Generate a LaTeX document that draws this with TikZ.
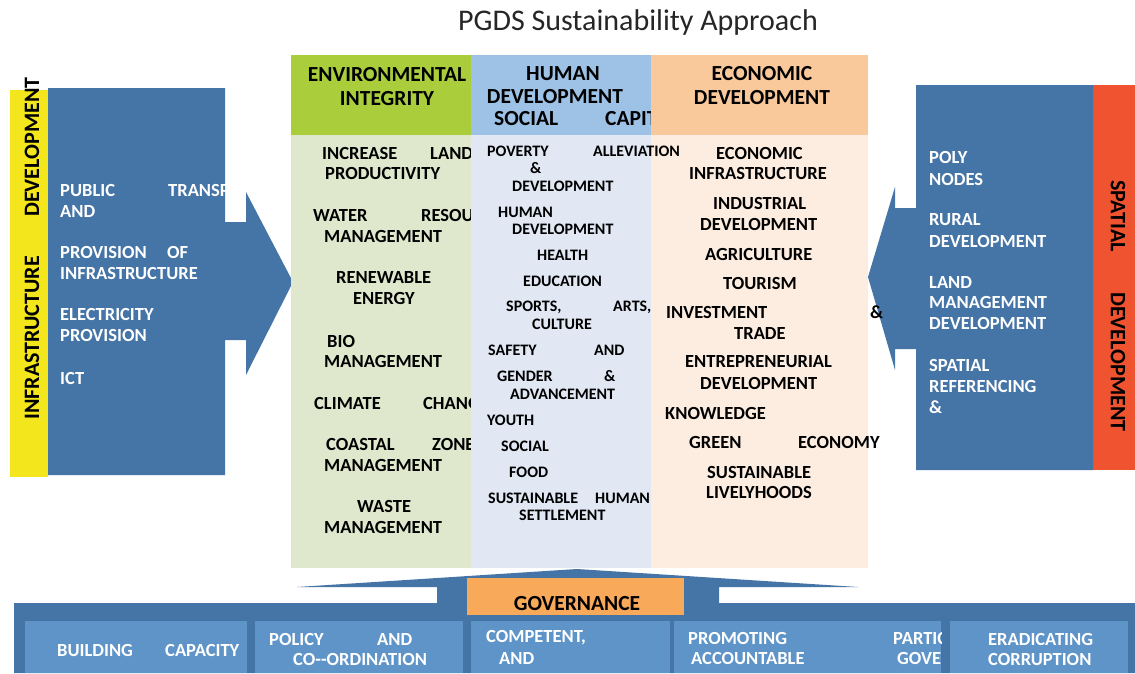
\documentclass[tikz,border=0pt]{standalone}
\usepackage{fontspec}
\setmainfont{Carlito}
\usepackage{tikz}
\definecolor{arrowBlue}{HTML}{4574A6}
\definecolor{boxBlue}{HTML}{5F94C8}
\definecolor{barYellow}{HTML}{F3E61C}
\definecolor{barRed}{HTML}{EF532F}
\definecolor{envHead}{HTML}{A9CD3B}
\definecolor{envBody}{HTML}{DFE8CC}
\definecolor{humHead}{HTML}{9DC2E5}
\definecolor{humBody}{HTML}{E1E8F4}
\definecolor{ecoHead}{HTML}{F9C89B}
\definecolor{ecoBody}{HTML}{FDEDE1}
\definecolor{govOrange}{HTML}{F8A95A}
% two words of one line, the second starting #1pt after the first
\newcommand{\jpair}[3]{\makebox[#1pt][l]{#2}#3}
% outlines of the two side arrows
\newcommand{\infraoutline}{(48,88) -- (225,88) -- (225,222) -- (246,222) -- (246,192)
    -- (293,282) -- (246,375) -- (246,340) -- (225,340) -- (225,475) -- (48,475) -- cycle}
\newcommand{\spatialoutline}{(1093,85) -- (916,85) -- (916,208) -- (895,208) -- (895,187)
    -- (868,277) -- (895,370) -- (895,349) -- (916,349) -- (916,470) -- (1093,470) -- cycle}

\begin{document}
\begin{tikzpicture}[x=1pt, y=-1pt,
    item/.style={anchor=west, inner sep=0pt, font=\fontsize{18.5}{21}\selectfont\bfseries},
    small/.style={item, font=\fontsize{16}{18}\selectfont\bfseries},
    head/.style={inner sep=0pt, align=center, font=\fontsize{21.5}{24}\selectfont\bfseries},
    side/.style={anchor=west, inner sep=0pt, font=\fontsize{22}{24}\selectfont\bfseries}]
    \useasboundingbox[fill=white] (0,0) rectangle (1135,673);
    \node[font=\fontsize{30}{34}\selectfont, text=black!85] (title) at (638,22) {PGDS Sustainability Approach};

    % infrastructure arrow (left)
    \fill[barYellow] (10,90) rectangle (48,477);
    \node[side, rotate=90] (infra) at (32,420) {\jpair{203}{INFRASTRUCTURE}{DEVELOPMENT}};
    \fill[arrowBlue] \infraoutline;
    \begin{scope}
        \clip \infraoutline;
        \foreach \y/\t [count=\i] in {190/{\jpair{108}{PUBLIC}{TRANSPO}}, 211/AND,
                252/{\jpair{107}{PROVISION}{OF}}, 273/INFRASTRUCTURE,
                314/ELECTRICITY, 335/PROVISION, 378/ICT}
            \node[item, text=white] (infra\i) at (60,\y) {\t};
    \end{scope}

    % spatial arrow (right)
    \fill[barRed] (1093,85) rectangle (1135,470);
    \node[side, rotate=-90] (spatial) at (1118,180) {\jpair{112}{SPATIAL}{DEVELOPMENT}};
    \fill[arrowBlue] \spatialoutline;
    \foreach \y/\t [count=\i] in {157/POLY, 179/NODES, 220/RURAL, 241/DEVELOPMENT,
            282/LAND, 302/MANAGEMENT, 323/DEVELOPMENT, 365/SPATIAL, 386/REFERENCING, 407/\&}
        \node[item, text=white] (spat\i) at (929,\y) {\t};

    % environmental integrity
    \fill[envHead] (291,55) rectangle (471,135);
    \fill[envBody] (291,135) rectangle (471,568);
    \node[head] (envH) at (387,87) {ENVIRONMENTAL\\INTEGRITY};
    \begin{scope}
        \clip (291,135) rectangle (471,568);
        \foreach \x/\y/\t [count=\i] in {322/153/{\jpair{108}{INCREASE}{LAND}}, 325/173/PRODUCTIVITY,
                313/215/{\jpair{108}{WATER}{RESOU}}, 324/236/MANAGEMENT,
                336/277/RENEWABLE, 353/298/ENERGY, 327/341/BIO, 324/361/MANAGEMENT,
                314/403/{\jpair{109}{CLIMATE}{CHANG}},
                326/444/{\jpair{106}{COASTAL}{ZONE}}, 324/465/MANAGEMENT,
                357/506/WASTE, 324/527/MANAGEMENT}
            \node[item] (env\i) at (\x,\y) {\t};
    \end{scope}

    % human development
    \fill[humHead] (471,55) rectangle (651,135);
    \fill[humBody] (471,135) rectangle (651,568);
    \begin{scope}
        \clip (471,55) rectangle (651,135);
        \node[head] (humH1) at (563,74) {HUMAN};
        \node[head] (humH2) at (555,97) {DEVELOPMENT};
        \node[head, anchor=west] (humH3) at (494,119) {\jpair{111}{SOCIAL}{CAPIT}};
    \end{scope}

    % economic development
    \fill[ecoHead] (651,55) rectangle (868,135);
    \fill[ecoBody] (651,135) rectangle (868,568);
    \node[head] (ecoH) at (762,86) {ECONOMIC\\DEVELOPMENT};

    \foreach \x/\y/\t [count=\i] in {487/151/{\jpair{106}{POVERTY}{ALLEVIATION}}, 530/168/\&,
            512/186/DEVELOPMENT, 498/212/HUMAN, 512/229/DEVELOPMENT, 537/255/HEALTH,
            523/281/EDUCATION, 506/307/{\jpair{107}{SPORTS,}{ARTS,}}, 532/324/CULTURE,
            488/350/{\jpair{106}{SAFETY}{AND}}, 497/376/{\jpair{107}{GENDER}{\&}},
            510/394/ADVANCEMENT, 487/420/YOUTH, 501/446/SOCIAL, 509/472/FOOD,
            488/498/{\jpair{107}{SUSTAINABLE}{HUMAN}}, 519/515/SETTLEMENT}
        \node[small] (hum\i) at (\x,\y) {\t};

    \foreach \x/\y/\t [count=\i] in {716/153/ECONOMIC, 689/173/INFRASTRUCTURE,
            713/203/INDUSTRIAL, 700/224/DEVELOPMENT, 705/254/AGRICULTURE, 723/283/TOURISM,
            666/312/{\jpair{204}{INVESTMENT}{\&}}, 734/333/TRADE,
            685/362/ENTREPRENEURIAL, 700/383/DEVELOPMENT, 665/413/KNOWLEDGE,
            689/442/{\jpair{109}{GREEN}{ECONOMY}}, 707/472/SUSTAINABLE, 706/492/LIVELYHOODS}
        \node[item] (eco\i) at (\x,\y) {\t};

    % governance arrow (bottom)
    \fill[arrowBlue] (14,603) -- (437,603) -- (437,587) -- (297,587) -- (577,569) -- (858,587)
        -- (719,587) -- (719,603) -- (1135,603) -- (1135,673) -- (14,673) -- cycle;
    \fill[govOrange] (467,578) rectangle (684,615);
    \node[head] (gov) at (577,604) {GOVERNANCE};

    \fill[boxBlue] (25,621) rectangle (247,673);
    \fill[boxBlue] (255,621) rectangle (463,673);
    \fill[boxBlue] (471,621) rectangle (670,673);
    \fill[boxBlue] (674,621) rectangle (941,673);
    \fill[boxBlue] (950,621) rectangle (1128,673);
    \node[item, text=white] (cap) at (57,650) {\jpair{108}{BUILDING}{CAPACITY}};
    \node[item, text=white] (pol1) at (269,639) {\jpair{108}{POLICY}{AND}};
    \node[item, text=white] (pol2) at (293,659) {CO-{}-ORDINATION};
    \node[item, text=white] (comp1) at (486,638) {COMPETENT,};
    \node[item, text=white] (comp2) at (499,658) {AND};
    \begin{scope}
        \clip (674,621) rectangle (941,673);
        \node[item, text=white] (prom1) at (688,638) {\jpair{205}{PROMOTING}{PARTIC}};
        \node[item, text=white] (prom2) at (691,658) {\jpair{206}{ACCOUNTABLE}{GOVER}};
    \end{scope}
    \node[item, text=white] (corr1) at (988,639) {ERADICATING};
    \node[item, text=white] (corr2) at (988,659) {CORRUPTION};
\end{tikzpicture}
\end{document}
